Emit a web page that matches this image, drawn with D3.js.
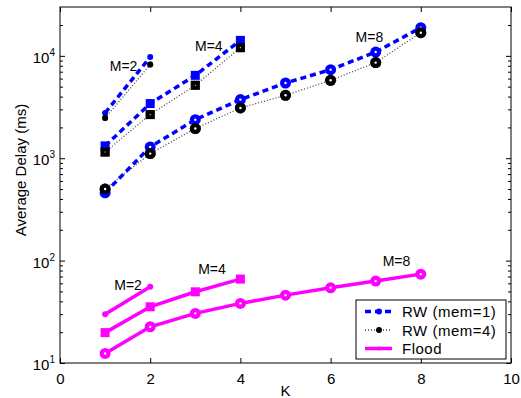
<!DOCTYPE html>
<html>
<head>
<meta charset="utf-8">
<script src="https://cdn.jsdelivr.net/npm/d3@7"></script>
<style>
  body { margin: 0; background: #fff; }
  svg { font-family: "Liberation Sans", Arial, sans-serif; }
</style>
</head>
<body>
<div id="chart"></div>
<script>
// K values for each group
const kM2 = [1, 2];
const kM4 = [1, 2, 3, 4];
const kM8 = [1, 2, 3, 4, 5, 6, 7, 8];

// RW (mem=1)
const rw1M2 = [2770, 9730];
const rw1M4 = [1320, 3420, 6450, 14160];
const rw1M8 = [460, 1290, 2380, 3740, 5430, 7330, 10890, 18840];

// RW (mem=4)
const rw4M2 = [2470, 8210];
const rw4M4 = [1150, 2670, 5160, 12020];
const rw4M8 = [500, 1110, 1950, 3100, 4120, 5770, 8590, 16830];

// Flood
const floodM2 = [29.9, 55.5];
const floodM4 = [19.8, 35.4, 49.6, 66];
const floodM8 = [12.4, 22.6, 30.5, 38.2, 46, 54.3, 63.1, 73.8];

const xTicks = [0, 2, 4, 6, 8, 10];
const yMajor = [10, 100, 1000, 10000];
const legendLabels = ["RW (mem=1)", "RW (mem=4)", "Flood"];

// group annotations, in data coordinates (K, delay)
const groupLabels = ["M=2", "M=4", "M=8", "M=2", "M=4", "M=8"];
const groupLabelK = [1.41, 3.30, 6.86, 1.51, 3.37, 7.46];
const groupLabelY = [7130, 11190, 13800, 51.6, 74.1, 88.7];

const w = 521, h = 398;
const pLeft = 60, pRight = 511, pTop = 7, pBottom = 363;

const svg = d3.select("#chart").append("svg")
  .attr("width", w).attr("height", h);

const x = d3.scaleLinear().domain([0, 10]).range([pLeft, pRight]);
const y = d3.scaleLog().domain([10, 30000]).range([pBottom, pTop]);

// minor log ticks
const yMinor = [];
yMajor.forEach(d => { for (let i = 2; i <= 9; i++) if (d * i < 30000) yMinor.push(d * i); });

// axes box
svg.append("rect")
  .attr("x", pLeft).attr("y", pTop)
  .attr("width", pRight - pLeft).attr("height", pBottom - pTop)
  .attr("fill", "none").attr("stroke", "#000").attr("stroke-width", 1);

function styleAxis(g) {
  g.select(".domain").remove();
  g.selectAll("line").attr("stroke", "#000");
}

// x axis ticks bottom/top
svg.append("g").attr("transform", "translate(0," + pBottom + ")")
  .call(d3.axisBottom(x).tickValues(xTicks).tickSize(-5).tickPadding(10))
  .call(styleAxis)
  .selectAll("text").attr("font-size", 15).attr("fill", "#000").attr("font-family", null);
svg.append("g").attr("transform", "translate(0," + pTop + ")")
  .call(d3.axisTop(x).tickValues(xTicks).tickSize(-5).tickFormat(""))
  .call(styleAxis);

// y axis ticks left/right
svg.append("g").attr("transform", "translate(" + pLeft + ",0)")
  .call(d3.axisLeft(y).tickValues(yMinor).tickSize(-3).tickFormat(""))
  .call(styleAxis);
svg.append("g").attr("transform", "translate(" + pLeft + ",0)")
  .call(d3.axisLeft(y).tickValues(yMajor).tickSize(-5).tickFormat(""))
  .call(styleAxis);
svg.append("g").attr("transform", "translate(" + pRight + ",0)")
  .call(d3.axisRight(y).tickValues(yMinor).tickSize(-3).tickFormat(""))
  .call(styleAxis);
svg.append("g").attr("transform", "translate(" + pRight + ",0)")
  .call(d3.axisRight(y).tickValues(yMajor).tickSize(-5).tickFormat(""))
  .call(styleAxis);

// y tick labels 10^n
const yl = svg.append("g").selectAll("text").data(yMajor).enter().append("text")
  .attr("x", pLeft - 5).attr("y", d => y(d) + 7)
  .attr("text-anchor", "end").attr("font-size", 15);
yl.append("tspan").text("10");
yl.append("tspan").attr("dy", -7).attr("font-size", 10).text(d => Math.round(Math.log10(d)));

// axis titles
svg.append("text").attr("x", x(5)).attr("y", 396)
  .attr("text-anchor", "middle").attr("font-size", 15).text("K");
svg.append("text")
  .attr("transform", "translate(26,170) rotate(-90)")
  .attr("text-anchor", "middle").attr("font-size", 15).text("Average Delay (ms)");

const line = d3.line().x(d => x(d[0])).y(d => y(d[1]));

function drawMarkers(pts, kind, color, hole) {
  const g = svg.append("g");
  pts.forEach(p => {
    const cx = x(p[0]), cy = y(p[1]);
    if (kind === "dot") {
      g.append("circle").attr("cx", cx).attr("cy", cy).attr("r", 3).attr("fill", color);
    } else if (kind === "square") {
      g.append("rect").attr("x", cx - 4.5).attr("y", cy - 4.5)
        .attr("width", 9).attr("height", 9).attr("fill", color);
      if (hole) g.append("rect").attr("x", cx - 0.5).attr("y", cy - 0.5)
        .attr("width", 1).attr("height", 1).attr("fill", "#fff");
    } else {
      g.append("circle").attr("cx", cx).attr("cy", cy).attr("r", 5.5).attr("fill", color);
      g.append("circle").attr("cx", cx).attr("cy", cy).attr("r", 1.2).attr("fill", "#fff");
    }
  });
}

function series(ks, vals, style, kind) {
  const pts = ks.map((k, i) => [k, vals[i]]);
  svg.append("path").datum(pts)
    .attr("d", line)
    .attr("fill", "none")
    .attr("stroke", style.color)
    .attr("stroke-width", style.width)
    .attr("stroke-dasharray", style.dash);
  drawMarkers(pts, kind, style.color, style.hole);
}

const blueStyle = { color: "#0000ff", width: 3.5, dash: "6,4", hole: false };
const blackStyle = { color: "#444", width: 1.3, dash: "1,2", hole: true };
const floodStyle = { color: "#ff00ff", width: 3.5, dash: null, hole: false };

// black (mem=4) under blue (mem=1)
series(kM2, rw4M2, blackStyle, "dot");
series(kM4, rw4M4, blackStyle, "square");
series(kM8, rw4M8, blackStyle, "circle");
series(kM2, rw1M2, blueStyle, "dot");
series(kM4, rw1M4, blueStyle, "square");
series(kM8, rw1M8, blueStyle, "circle");
// black markers again on top
drawMarkers(kM4.map((k, i) => [k, rw4M4[i]]), "square", "#000", true);
drawMarkers(kM8.map((k, i) => [k, rw4M8[i]]), "circle", "#000", true);
drawMarkers(kM2.map((k, i) => [k, rw4M2[i]]), "dot", "#000", true);

series(kM2, floodM2, floodStyle, "dot");
series(kM4, floodM4, floodStyle, "square");
series(kM8, floodM8, floodStyle, "circle");

// group labels
svg.append("g").selectAll("text").data(groupLabels).enter().append("text")
  .attr("x", (d, i) => x(groupLabelK[i])).attr("y", (d, i) => y(groupLabelY[i]))
  .attr("text-anchor", "middle").attr("font-size", 14).text(d => d);

// legend
const lg = svg.append("g").attr("transform", "translate(356,300)");
lg.append("rect").attr("width", 150).attr("height", 59)
  .attr("fill", "#fff").attr("stroke", "#000").attr("stroke-width", 1);
const legStyles = [blueStyle, blackStyle, floodStyle];
legendLabels.forEach((lab, i) => {
  const cy = 11.5 + i * 18.5;
  const s = legStyles[i];
  lg.append("line").attr("x1", 9).attr("x2", 36).attr("y1", cy).attr("y2", cy)
    .attr("stroke", s.color).attr("stroke-width", s.width)
    .attr("stroke-dasharray", s.dash);
  lg.append("circle").attr("cx", 23).attr("cy", cy).attr("r", i === 2 ? 2 : 3)
    .attr("fill", i === 1 ? "#000" : s.color);
  lg.append("text").attr("x", 46).attr("y", cy + 5.5).attr("font-size", 15)
    .attr("letter-spacing", 0.5).text(lab);
});
</script>
</body>
</html>
